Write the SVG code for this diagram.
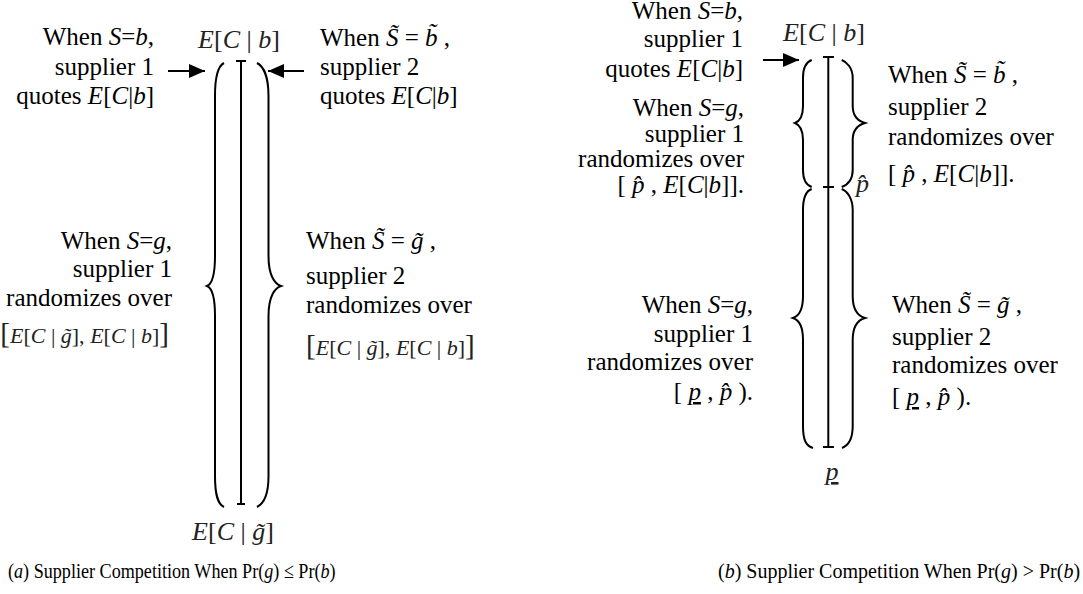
<svg xmlns="http://www.w3.org/2000/svg" width="1083" height="594" viewBox="0 0 1083 594">
<defs>
<style>
.t{font-family:"Liberation Serif","Times New Roman",serif;font-size:25px;fill:#000}
.m{font-family:"Liberation Serif","Times New Roman",serif;font-size:26px;fill:#222}
.s{font-size:22px}
.big{font-size:29px}
.i{font-style:italic}
.r{text-anchor:end}
.c{text-anchor:middle}
.u{text-decoration:underline}
.br{fill:none;stroke:#000;stroke-width:2}
.ln{fill:none;stroke:#000;stroke-width:2}
.cap{font-family:"Liberation Serif","Times New Roman",serif;font-size:22px;fill:#000}
</style>
<marker id="ah" markerUnits="userSpaceOnUse" markerWidth="16" markerHeight="14" refX="16" refY="7" orient="auto">
<path d="M0,0 L16,7 L0,14 Z" fill="#000"/>
</marker>
</defs>
<rect width="1083" height="594" fill="#fff"/>

<!-- Panel (a) -->
<g id="a-top-label"><text class="m c" x="239" y="48"><tspan class="i">E</tspan>[<tspan class="i">C</tspan> | <tspan class="i">b</tspan>]</text></g>
<g id="a-bottom-label"><text class="m c" x="233" y="540"><tspan class="i">E</tspan>[<tspan class="i">C</tspan> | <tspan class="i">g̃</tspan>]</text></g>

<g id="a-scale">
<path class="br" d="M224,63 C218,66 215,76 215,96 L215,256 C215,276 212,284 207,286 C212,288 215,296 215,316 L215,476 C215,496 218,504 224,507"/>
<path class="br" d="M257,63 C263,66 268.5,76 268.5,96 L268.5,256 C268.5,276 275,284 281,286 C275,288 268.5,296 268.5,316 L268.5,476 C268.5,496 263,504 257,507"/>
<path class="ln" d="M241,61 V504 M236,61 H246 M237,504 H245"/>
</g>

<g id="a-s1-b">
<text class="t r" x="154" y="45">When <tspan class="i">S</tspan>=<tspan class="i">b</tspan>,</text>
<text class="t r" x="154" y="75">supplier 1</text>
<text class="t r" x="154" y="104">quotes <tspan class="i">E</tspan>[<tspan class="i">C</tspan>|<tspan class="i">b</tspan>]</text>
</g>
<g id="a-s2-b">
<text class="t" x="320" y="46">When  <tspan class="i">S̃</tspan> = <tspan class="i">b̃</tspan> ,</text>
<text class="t" x="320" y="75">supplier 2</text>
<text class="t" x="320" y="104">quotes <tspan class="i">E</tspan>[<tspan class="i">C</tspan>|<tspan class="i">b</tspan>]</text>
</g>
<g id="a-s1-g">
<text class="t r" x="172" y="249">When <tspan class="i">S</tspan>=<tspan class="i">g</tspan>,</text>
<text class="t r" x="172" y="277">supplier 1</text>
<text class="t r" x="172" y="306">randomizes over</text>
<text class="m r" x="169" y="343"><tspan class="big">[</tspan><tspan class="s"><tspan class="i">E</tspan>[<tspan class="i">C</tspan> | <tspan class="i">g̃</tspan>], <tspan class="i">E</tspan>[<tspan class="i">C</tspan> | <tspan class="i">b</tspan>]</tspan><tspan class="big">]</tspan></text>
</g>
<g id="a-s2-g">
<text class="t" x="306" y="249">When <tspan class="i">S̃</tspan> = <tspan class="i">g̃</tspan> ,</text>
<text class="t" x="306" y="284">supplier 2</text>
<text class="t" x="306" y="313">randomizes over</text>
<text class="m" x="306" y="355"><tspan class="big">[</tspan><tspan class="s"><tspan class="i">E</tspan>[<tspan class="i">C</tspan> | <tspan class="i">g̃</tspan>], <tspan class="i">E</tspan>[<tspan class="i">C</tspan> | <tspan class="i">b</tspan>]</tspan><tspan class="big">]</tspan></text>
</g>

<!-- Panel (b) -->
<g id="b-top-label"><text class="m c" x="824" y="41"><tspan class="i">E</tspan>[<tspan class="i">C</tspan> | <tspan class="i">b</tspan>]</text></g>
<g id="b-bottom-label"><text class="m c" x="832" y="480"><tspan class="i u">p</tspan></text></g>
<g id="b-phat-label"><text class="m" x="856" y="192"><tspan class="i">p̂</tspan></text></g>

<g id="b-scale">
<path class="br" d="M811.7,60 C806,62 803,68 803,78 L803,106 C803,117 800,121 795,123 C800,125 803,129 803,140 L803,170 C803,180 806,185 811.7,187"/>
<path class="br" d="M811.7,189 C806,191 803,198 803,210 L803,296 C803,310 799,316 793,318 C799,320 803,326 803,340 L803,426 C803,440 806,446 813,448"/>
<path class="br" d="M841.7,60 C847,62 852.7,68 852.7,78 L852.7,106 C852.7,117 858,121 865,123 C858,125 852.7,129 852.7,140 L852.7,170 C852.7,180 847,185 841.7,187"/>
<path class="br" d="M841.7,189 C847,191 852.7,198 852.7,210 L852.7,296 C852.7,310 858,316 865,318 C858,320 852.7,326 852.7,340 L852.7,426 C852.7,440 847,446 842,448"/>
<path class="ln" d="M828.3,57 V447 M823,57 H834 M823,187 H834 M823,447 H834"/>
</g>

<g id="b-s1-b">
<text class="t r" x="743" y="19">When <tspan class="i">S</tspan>=<tspan class="i">b</tspan>,</text>
<text class="t r" x="743" y="47">supplier 1</text>
<text class="t r" x="743" y="77">quotes <tspan class="i">E</tspan>[<tspan class="i">C</tspan>|<tspan class="i">b</tspan>]</text>
</g>
<g id="b-s1-g-upper">
<text class="t r" x="744" y="116">When <tspan class="i">S</tspan>=<tspan class="i">g</tspan>,</text>
<text class="t r" x="744" y="142">supplier 1</text>
<text class="t r" x="744" y="167">randomizes over</text>
<text class="t r" x="744" y="193">[ <tspan class="i">p̂</tspan> , <tspan class="i">E</tspan>[<tspan class="i">C</tspan>|<tspan class="i">b</tspan>]].</text>
</g>
<g id="b-s2-b">
<text class="t" x="888" y="83">When  <tspan class="i">S̃</tspan> = <tspan class="i">b̃</tspan> ,</text>
<text class="t" x="888" y="115">supplier 2</text>
<text class="t" x="888" y="145">randomizes over</text>
<text class="t" x="888" y="182">[ <tspan class="i">p̂</tspan> , <tspan class="i">E</tspan>[<tspan class="i">C</tspan>|<tspan class="i">b</tspan>]].</text>
</g>
<g id="b-s1-g-lower">
<text class="t r" x="753" y="313">When <tspan class="i">S</tspan>=<tspan class="i">g</tspan>,</text>
<text class="t r" x="753" y="342">supplier 1</text>
<text class="t r" x="753" y="370">randomizes over</text>
<text class="t r" x="753" y="400">[ <tspan class="i u">p</tspan> , <tspan class="i">p̂</tspan> ).</text>
</g>
<g id="b-s2-g">
<text class="t" x="892" y="313">When  <tspan class="i">S̃</tspan> = <tspan class="i">g̃</tspan> ,</text>
<text class="t" x="892" y="345">supplier 2</text>
<text class="t" x="892" y="373">randomizes over</text>
<text class="t" x="892" y="405">[ <tspan class="i u">p</tspan> , <tspan class="i">p̂</tspan> ).</text>
</g>

<g id="connectors">
<line class="ln" x1="168" y1="71" x2="205" y2="71" marker-end="url(#ah)"/>
<line class="ln" x1="304" y1="71" x2="268" y2="71" marker-end="url(#ah)"/>
<line class="ln" x1="763" y1="60" x2="799" y2="60" marker-end="url(#ah)"/>
</g>

<g id="captions">
<text class="cap" transform="translate(8,578) scale(0.824,1)" x="0" y="0">(<tspan class="i">a</tspan>) Supplier Competition When Pr(<tspan class="i">g</tspan>) ≤ Pr(<tspan class="i">b</tspan>)</text>
<text class="cap" transform="translate(718,578) scale(0.91,1)" x="0" y="0">(<tspan class="i">b</tspan>) Supplier Competition When Pr(<tspan class="i">g</tspan>) &gt; Pr(<tspan class="i">b</tspan>)</text>
</g>
</svg>
